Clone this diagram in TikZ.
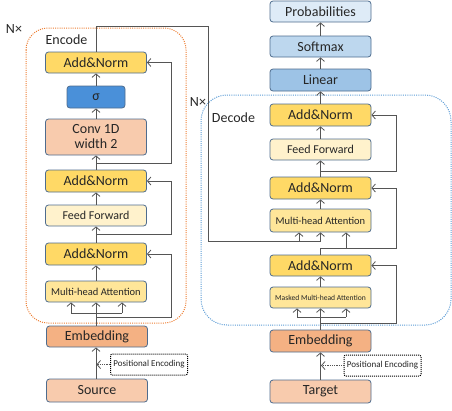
\documentclass[tikz,border=0pt]{standalone}
\usepackage{fontspec}
\setmainfont{Carlito}
\usetikzlibrary{arrows.meta}
\definecolor{bordc}{RGB}{78,108,142}
\definecolor{anfill}{HTML}{FFD966}
\definecolor{fffill}{HTML}{FFF2CC}
\definecolor{mhfill}{HTML}{FFE699}
\definecolor{convfill}{HTML}{F8CBAD}
\definecolor{embfill}{HTML}{F4B183}
\definecolor{sigfill}{RGB}{74,144,217}
\definecolor{linfill}{HTML}{9DC3E6}
\definecolor{smfill}{HTML}{BDD7EE}
\definecolor{prfill}{HTML}{DEEBF7}
\definecolor{linec}{RGB}{85,85,85}
\definecolor{encc}{HTML}{ED7D31}
\definecolor{decc}{HTML}{5B9BD5}
\definecolor{txtc}{RGB}{38,38,38}
\begin{document}
\begin{tikzpicture}[x=1pt,y=-1pt,
  box/.style={draw=bordc,line width=0.8pt,rounded corners=3pt,minimum width=101pt,minimum height=21pt,inner sep=0pt,text=txtc,font=\fontsize{14}{15}\selectfont},
  an/.style={box,fill=anfill},
  ff/.style={box,fill=fffill,font=\fontsize{12}{13}\selectfont},
  mh/.style={box,fill=mhfill,font=\fontsize{10.5}{12}\selectfont},
  pe/.style={draw=black,densely dotted,line width=1pt,rounded corners=2pt,fill=white,minimum width=77pt,minimum height=21pt,inner sep=0pt,text=txtc,font=\fontsize{9}{10}\selectfont},
  conn/.style={draw=linec,line width=0.8pt},
  arr/.style={conn,-{Straight Barb[length=3.5pt,width=8pt]}},
  darr/.style={arr,densely dotted},
  lbl/.style={text=txtc,font=\fontsize{14}{15}\selectfont,inner sep=0pt}
]
\useasboundingbox (0,0) rectangle (452,410);

% frames
\draw[encc,line width=1pt,dash pattern=on 1pt off 1.2pt,rounded corners=22pt] (26,28) rectangle (186,323);
\draw[decc,line width=1pt,dash pattern=on 1pt off 1.2pt,rounded corners=26pt] (201,95) rectangle (451,325);
\node[lbl] (nenc) at (14,29) {N×};
\node[lbl] (lenc) at (66.5,40) {Encode};
\node[lbl] (ndec) at (198,102) {N×};
\node[lbl] (ldec) at (233.5,118) {Decode};

% encoder
\node[an] (encAN3) at (96,62.5) {Add\&Norm};
\node[box,fill=sigfill,minimum width=58pt,minimum height=22pt] (sigma) at (96,97) {σ};
\node[box,fill=convfill,minimum height=36pt,align=center] (conv) at (96,137) {Conv 1D\\width 2};
\node[an,minimum height=22pt] (encAN2) at (96,181) {Add\&Norm};
\node[ff] (encFF) at (96,215.5) {Feed Forward};
\node[an,minimum height=22pt] (encAN1) at (96,254) {Add\&Norm};
\node[mh] (encMHA) at (96,291.5) {Multi-head Attention};
\node[box,fill=embfill] (encEmb) at (97,336.5) {Embedding};
\node[pe] (encPE) at (149,364.5) {Positional Encoding};
\node[box,fill=convfill,minimum height=23pt] (source) at (97,390.5) {Source};

% decoder
\node[box,fill=prfill] (prob) at (320.5,11.5) {Probabilities};
\node[box,fill=smfill] (softmax) at (320.5,46.5) {Softmax};
\node[box,fill=linfill,minimum height=22pt] (linear) at (320.5,80) {Linear};
\node[an,minimum height=22pt] (decAN3) at (320.5,115) {Add\&Norm};
\node[ff] (decFF) at (320.5,149.5) {Feed Forward};
\node[an,minimum height=22pt] (decAN2) at (320.5,188) {Add\&Norm};
\node[mh,minimum height=23pt] (decMHA) at (320.5,220.5) {Multi-head Attention};
\node[an] (decAN1) at (320.5,265.5) {Add\&Norm};
\node[mh,font=\fontsize{7.6}{9}\selectfont] (decMMHA) at (320.5,297.5) {Masked Multi-head Attention};
\node[box,fill=embfill,minimum height=22pt] (decEmb) at (320.5,341) {Embedding};
\node[pe] (decPE) at (382.5,365.5) {Positional Encoding};
\node[box,fill=convfill,minimum height=23pt] (target) at (320.5,391.5) {Target};

% encoder connectors
\draw[arr] (source.north -| 96,0) -- (encEmb.south -| 96,0);
\coordinate (encPEend) at (96.5,364.5);
\draw[darr] (encPE.west) -- (encPEend);
\draw[arr] (encEmb.north -| 96,0) -- (encMHA.south);
\draw[conn] (71,313) -- (122,313);
\draw[arr] (71,313) -- (encMHA.south -| 71,0);
\draw[arr] (122,313) -- (encMHA.south -| 122,0);
\draw[arr] (96,317) -- (171,317) -- (171,254) -- (encAN1.east);
\draw[arr] (encMHA.north) -- (encAN1.south);
\draw[arr] (encAN1.north) -- (encFF.south);
\draw[arr] (96,234) -- (171,234) -- (171,181) -- (encAN2.east);
\draw[arr] (encFF.north) -- (encAN2.south);
\draw[arr] (encAN2.north) -- (conv.south);
\draw[arr] (96,163) -- (171,163) -- (171,62.5) -- (encAN3.east);
\draw[arr] (conv.north) -- (sigma.south);
\draw[arr] (sigma.north) -- (encAN3.south);
\draw[arr] (encAN3.north) -- (96,26) -- (208,26) -- (208,241) -- (320.5,241) -- (decMHA.south);
\draw[arr] (299,241) -- (decMHA.south -| 299,0);

% decoder connectors
\draw[arr] (target.north) -- (decEmb.south);
\coordinate (decPEend) at (321,365.5);
\draw[darr] (decPE.west) -- (decPEend);
\draw[arr] (decEmb.north) -- (decMMHA.south);
\draw[conn] (297,317) -- (346,317);
\draw[arr] (297,317) -- (decMMHA.south -| 297,0);
\draw[arr] (346,317) -- (decMMHA.south -| 346,0);
\draw[arr] (320.5,323) -- (396,323) -- (396,265.5) -- (decAN1.east);
\draw[arr] (decMMHA.north) -- (decAN1.south);
\draw[arr] (decAN1.north) -- (320.5,248) -- (346,248) -- (decMHA.south -| 346,0);
\draw[arr] (346,248) -- (396,248) -- (396,188) -- (decAN2.east);
\draw[arr] (decMHA.north) -- (decAN2.south);
\draw[arr] (decAN2.north) -- (decFF.south);
\draw[arr] (320.5,171) -- (396,171) -- (396,115) -- (decAN3.east);
\draw[arr] (decFF.north) -- (decAN3.south);
\draw[arr] (decAN3.north) -- (linear.south);
\draw[arr] (linear.north) -- (softmax.south);
\draw[arr] (softmax.north) -- (prob.south);
\end{tikzpicture}
\end{document}
